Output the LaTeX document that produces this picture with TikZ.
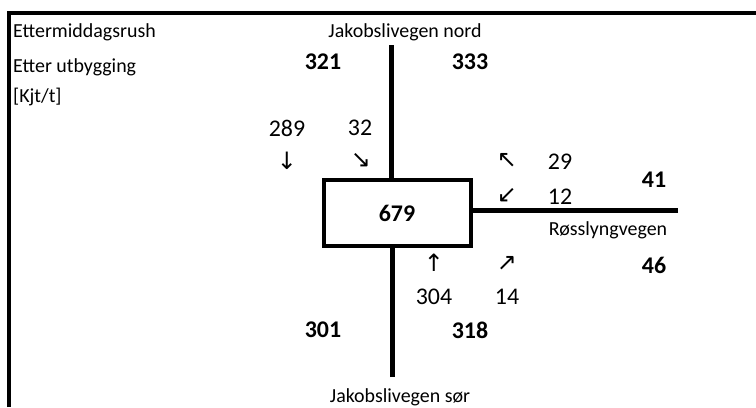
\documentclass[tikz,border=0pt]{standalone}
\usepackage{fontspec}
\setmainfont{Carlito}
\newfontfamily\arrowfont{DejaVu Sans}
\usetikzlibrary{positioning}

\tikzset{
  frameline/.style={line width=4bp},
  road/.style={line width=5bp},
  junction/.style={draw, line width=4bp, minimum width=147bp, minimum height=66bp, inner sep=0pt, font=\fontsize{24}{28}\selectfont\bfseries},
  volume/.style={inner sep=0pt, font=\fontsize{24}{28}\selectfont},
  total/.style={inner sep=0pt, font=\fontsize{24}{28}\selectfont\bfseries},
  roadname/.style={inner sep=0pt, font=\fontsize{20}{24}\selectfont},
  heading/.style={inner sep=0pt, anchor=west, font=\fontsize{20}{24}\selectfont},
  turn/.style={inner sep=0pt, font=\arrowfont\fontsize{24}{28}\selectfont}
}

\begin{document}
\begin{tikzpicture}[x=1bp, y=-1bp]
  \useasboundingbox (0,0) rectangle (756,407);
  \draw[frameline] (9,407) -- (9,13) -- (756,13);

  % heading, top left
  \node[heading] (period) at (13,32) {Ettermiddagsrush};
  \node[heading] (scenario) at (13,67) {Etter utbygging};
  \node[heading] (unit) at (13,97) {[Kjt/t]};

  % junction and arms
  \node[junction] (kryss) at (397,213) {679};
  \coordinate (nordend) at (391,45);
  \coordinate (sorend) at (392,377);
  \coordinate (ostend) at (678,210);
  \draw[road] (nordend) -- (nordend |- kryss.north);
  \draw[road] (sorend) -- (sorend |- kryss.south);
  \draw[road] (ostend) -- (ostend -| kryss.east);

  \node[roadname] (nordnavn) at (405,32) {Jakobslivegen nord};
  \node[roadname] (sornavn) at (400,397) {Jakobslivegen sør};
  \node[roadname] (ostnavn) at (608,230) {Røsslyngvegen};

  % arm totals
  \node[total] (nordinn) at (323,62) {321};
  \node[total] (nordut) at (470,62) {333};
  \node[total] (ostut) at (654,180) {41};
  \node[total] (ostinn) at (654,265) {46};
  \node[total] (sorut) at (323,330) {301};
  \node[total] (sorinn) at (470,330) {318};

  % turning volumes, north arm
  \node[volume] (nordrett) at (287,128) {289};
  \node[volume] (nordvenstre) at (360,128) {32};
  \node[turn] (pilnr) at (287,161) {↓};
  \node[turn] (pilnv) at (361,160) {↘};

  % turning volumes, east arm
  \node[volume] (ostvenstre) at (560,162) {29};
  \node[volume] (osthoyre) at (560,197) {12};
  \node[turn] (pilov) at (507,160) {↖};
  \node[turn] (piloh) at (507,195) {↙};

  % turning volumes, south arm
  \node[volume] (sorrett) at (434,297) {304};
  \node[volume] (sorhoyre) at (507,297) {14};
  \node[turn] (pilsr) at (434,263) {↑};
  \node[turn] (pilsh) at (507,263) {↗};
\end{tikzpicture}
\end{document}
